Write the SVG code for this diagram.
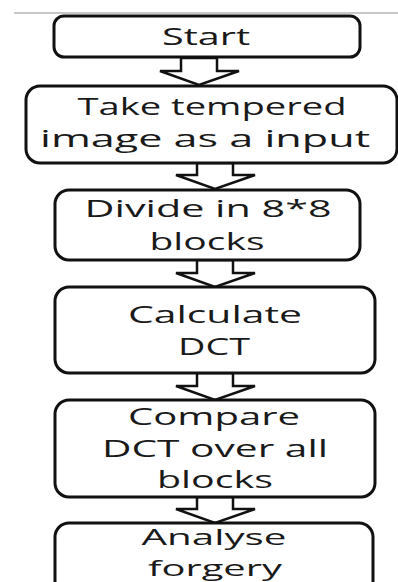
<svg xmlns="http://www.w3.org/2000/svg" width="398" height="582" viewBox="0 0 398 582">
<style>
.box{fill:#fff;stroke:#111;stroke-width:3}
.arr{fill:#fff;stroke:#111;stroke-width:2.5;stroke-linejoin:miter}
text{font-family:"Open Sans","Noto Sans","DejaVu Sans",sans-serif;font-size:23px;fill:#1a1a1a;text-anchor:middle}
#analyse text{font-size:22px}
</style>
<rect x="0" y="0" width="398" height="582" fill="#fff"/>
<line x1="14" y1="13" x2="398" y2="13" stroke="#c8c8c8" stroke-width="2"/>
<g id="connectors">
<polygon class="arr" points="181,58 181,71 160,71 199,85 239,71 217,71 217,58"/>
<polygon class="arr" points="197,163 197,175 176,175 215,189 255,175 233,175 233,163"/>
<polygon class="arr" points="197,260 197,273 176,273 215,287 255,273 233,273 233,260"/>
<polygon class="arr" points="197,373 197,386 176,386 215,400 255,386 233,386 233,373"/>
<polygon class="arr" points="197,497 197,509 176,509 215,523 255,509 233,509 233,497"/>
</g>
<g id="start">
<rect class="box" x="54" y="16" width="306" height="41" rx="10"/>
<text x="206" y="45" textLength="88" lengthAdjust="spacingAndGlyphs">Start</text>
</g>
<g id="take">
<rect class="box" x="26" y="86" width="371" height="77" rx="14"/>
<text x="212" y="115" textLength="269" lengthAdjust="spacingAndGlyphs">Take tempered</text>
<text x="205" y="147" textLength="330" lengthAdjust="spacingAndGlyphs">image as a input</text>
</g>
<g id="divide">
<rect class="box" x="55" y="190" width="305" height="70" rx="14"/>
<text x="208" y="217" textLength="247" lengthAdjust="spacingAndGlyphs">Divide in 8*8</text>
<text x="207" y="250" textLength="115" lengthAdjust="spacingAndGlyphs">blocks</text>
</g>
<g id="calculate">
<rect class="box" x="55" y="287" width="320" height="86" rx="14"/>
<text x="215" y="323" textLength="174" lengthAdjust="spacingAndGlyphs">Calculate</text>
<text x="214" y="355" textLength="72" lengthAdjust="spacingAndGlyphs">DCT</text>
</g>
<g id="compare">
<rect class="box" x="55" y="400" width="320" height="97" rx="14"/>
<text x="214" y="425" textLength="172" lengthAdjust="spacingAndGlyphs">Compare</text>
<text x="215" y="457" textLength="226" lengthAdjust="spacingAndGlyphs">DCT over all</text>
<text x="215" y="488" textLength="116" lengthAdjust="spacingAndGlyphs">blocks</text>
</g>
<g id="analyse">
<rect class="box" x="55" y="523" width="318" height="75" rx="14"/>
<text x="214" y="545" textLength="145" lengthAdjust="spacingAndGlyphs">Analyse</text>
<text x="215" y="576" textLength="134" lengthAdjust="spacingAndGlyphs">forgery</text>
</g>
</svg>
